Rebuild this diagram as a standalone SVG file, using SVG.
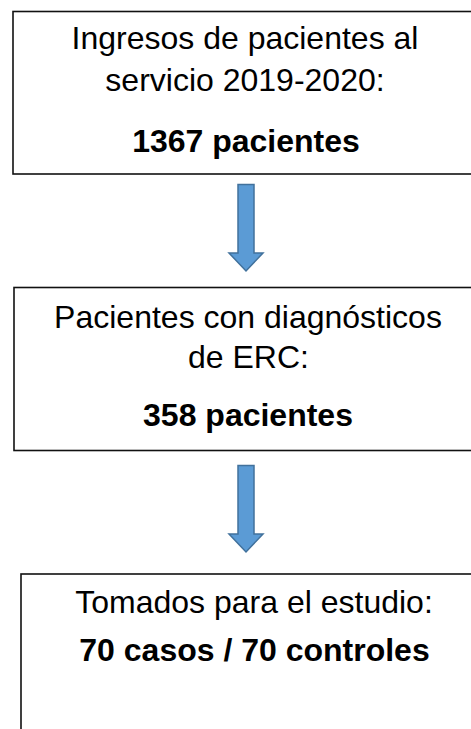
<svg xmlns="http://www.w3.org/2000/svg" width="471" height="729" viewBox="0 0 471 729">
<style>
.box{fill:#fff;stroke:#111;stroke-width:1.6}
.t{font-family:"Liberation Sans",Arial,sans-serif;font-size:32px;fill:#000;text-anchor:middle}
.b{font-weight:bold}
.arr{fill:#5B9BD5;stroke:#41719C;stroke-width:1.5;stroke-linejoin:miter}
</style>
<rect width="471" height="729" fill="#fff"/>
<g id="node1">
<rect class="box" x="13" y="11.5" width="470" height="162.5"/>
<text class="t" x="245" y="49">Ingresos de pacientes al</text>
<text class="t" x="245" y="90.5">servicio 2019-2020:</text>
<text class="t b" x="246" y="151.5">1367 pacientes</text>
</g>
<g id="node2">
<rect class="box" x="14" y="287.5" width="470" height="163"/>
<text class="t" x="248" y="328">Pacientes con diagnósticos</text>
<text class="t" x="248.5" y="368">de ERC:</text>
<text class="t b" x="248" y="426">358 pacientes</text>
</g>
<g id="node3">
<rect class="box" x="21" y="574" width="470" height="170"/>
<text class="t" x="254" y="613">Tomados para el estudio:</text>
<text class="t b" x="254.5" y="661">70 casos / 70 controles</text>
</g>
<g id="connectors">
<path class="arr" d="M238,184.5 H254 V253 H263 L246,271 L229,253 H238 Z"/>
<path class="arr" d="M238,465.5 H254 V534 H263 L246,552 L229,534 H238 Z"/>
</g>
</svg>
